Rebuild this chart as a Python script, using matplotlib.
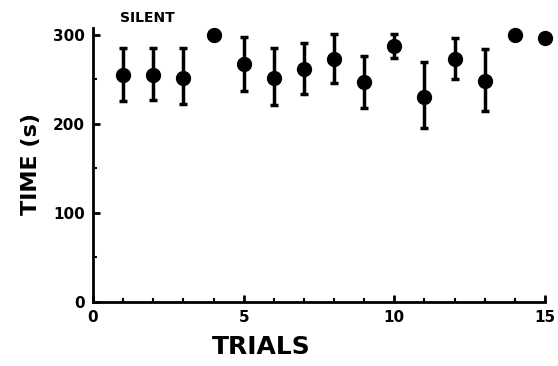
import numpy as np
import matplotlib
matplotlib.use("Agg")
import matplotlib.pyplot as plt
from matplotlib.ticker import MultipleLocator

# Mean time per trial with error bar ends
trials = [1, 2, 3, 4, 5, 6, 7, 8, 9, 10, 11, 12, 13, 14, 15]
mean_time = [255, 255, 252, 300, 267, 252, 262, 273, 247, 287, 230, 273, 248, 300, 296]
err_top = [285, 285, 285, 300, 298, 285, 291, 301, 276, 301, 269, 297, 284, 300, 296]
err_bottom = [226, 227, 222, 300, 237, 221, 234, 246, 218, 274, 195, 251, 215, 300, 296]

mean_time = np.array(mean_time)
yerr = [mean_time - np.array(err_bottom), np.array(err_top) - mean_time]

plt.rcParams['font.family'] = ['DejaVu Sans']
plt.rcParams['font.weight'] = 'bold'

fig = plt.figure(figsize=(5.58, 3.66), dpi=100)
ax = fig.add_axes([0.1667, 0.175, 0.81, 0.754])

ax.errorbar(trials, mean_time, yerr=yerr, fmt='o', color='black', ms=10,
            elinewidth=2.5, capsize=3, capthick=2.5, clip_on=False, zorder=3)

ax.set_xlim(0, 15)
ax.set_ylim(0, 310)
ax.spines['top'].set_visible(False)
ax.spines['right'].set_visible(False)
ax.spines['left'].set_linewidth(2)
ax.spines['bottom'].set_linewidth(2)
ax.spines['left'].set_bounds(0, 308)

ax.set_xticks([0, 5, 10, 15])
ax.set_yticks([0, 100, 200, 300])
ax.xaxis.set_minor_locator(MultipleLocator(1))
ax.yaxis.set_minor_locator(MultipleLocator(50))
ax.tick_params(which='major', direction='in', length=5, width=2, labelsize=11, pad=6)
ax.tick_params(which='minor', direction='in', length=3, width=1.5)
for lab in ax.get_xticklabels() + ax.get_yticklabels():
    lab.set_fontweight('bold')

ax.set_xlabel("TRIALS", fontsize=18, fontweight='bold')
ax.xaxis.set_label_coords(5.58 / 15, -0.12)
ax.set_ylabel("TIME (s)", fontsize=16, fontweight='bold')
ax.yaxis.set_label_coords(-0.115, 0.5)
ax.text(1.8, 319, "SILENT", fontsize=10, fontweight='bold', va='center', ha='center')

fig.savefig("out.png", dpi=100)
